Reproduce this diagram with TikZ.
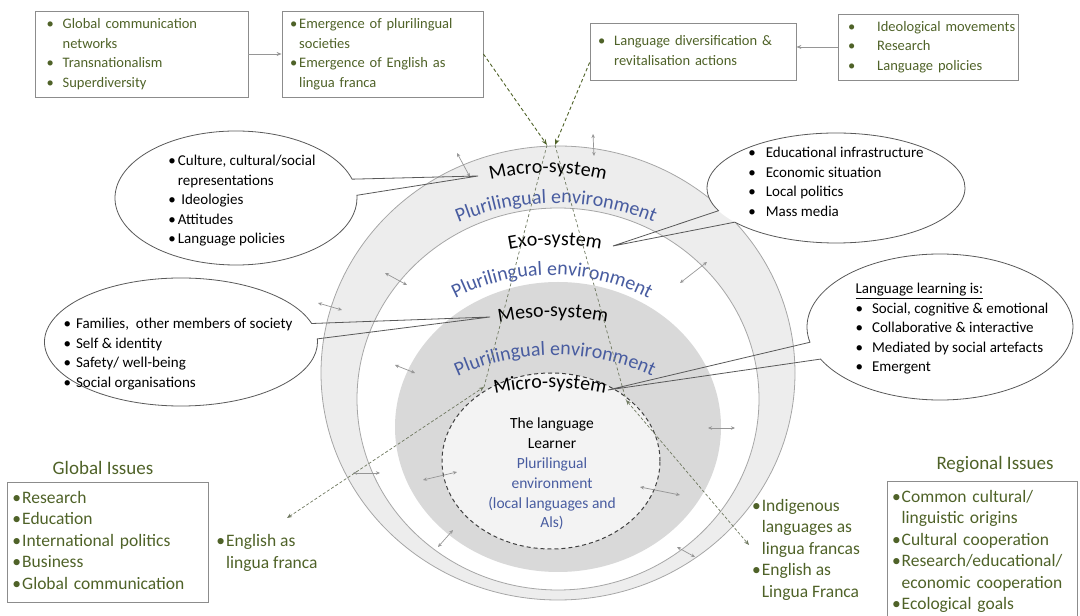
\documentclass[tikz,border=0pt]{standalone}
\usepackage{fontspec}
\setmainfont{Carlito}
\usepackage{tikz}
\usetikzlibrary{shapes.geometric, shapes.callouts, arrows.meta, positioning, calc, decorations.text}

% Schriftgrößen
\newcommand{\boxfont}{\fontsize{14.5}{19.5}\selectfont}
\newcommand{\callfont}{\fontsize{15}{19.5}\selectfont}
\newcommand{\issuefont}{\fontsize{17.5}{21.5}\selectfont}
\newcommand{\sysfont}{\fontsize{20}{24}\selectfont}

% gebogene Beschriftung: Mitte x, oberster Punkt y, Radius, Text
\newcommand{\arclabel}[4]{%
  \path[decorate, decoration={text along path, text align=center, text={#4}}]
    ([shift={(125:#3)}]#1,#2-#3) arc[start angle=125, end angle=55, radius=#3];}

\begin{document}
\begin{tikzpicture}[x=1pt, y=1pt,
    ring/.style={draw=ringgray, line width=0.8pt},
    greenbox/.style={draw=boxgray, line width=0.8pt, text=issuegreen, align=left, inner sep=0pt, font=\boxfont},
    bubble/.style={ellipse callout, draw=bubblegray, line width=0.8pt, callout pointer arc=14},
    linkarrow/.style={-{Stealth[length=5pt,width=4pt]}, draw=arrowgray, line width=0.8pt},
    influence/.style={-{Stealth[length=6pt,width=4.5pt]}, draw=issuegreen, dash pattern=on 3.5pt off 2.5pt, line width=0.9pt},
    fanline/.style={draw=fangreen, dash pattern=on 3pt off 2.5pt, line width=0.7pt},
    lingua/.style={{Stealth[length=5pt,width=4pt]}-{Stealth[length=5pt,width=4pt]}, draw=fangreen, dash pattern=on 3pt off 2pt, line width=0.7pt},
    interact/.style={{Stealth[length=4pt,width=3.5pt]}-{Stealth[length=4pt,width=3.5pt]}, draw=arrowgray, line width=0.7pt}
  ]
    % Farben
    \definecolor{issuegreen}{RGB}{79,98,40}
    \definecolor{fangreen}{RGB}{110,120,95}
    \definecolor{plblue}{RGB}{72,92,160}
    \definecolor{macrogray}{RGB}{237,237,237}
    \definecolor{mesogray}{RGB}{217,217,217}
    \definecolor{microgray}{RGB}{243,243,243}
    \definecolor{ringgray}{RGB}{166,166,166}
    \definecolor{boxgray}{RGB}{140,140,140}
    \definecolor{bubblegray}{RGB}{89,89,89}
    \definecolor{arrowgray}{RGB}{150,150,150}

    \useasboundingbox (0,0) rectangle (1080,616);

    % Systeme (von aussen nach innen)
    \path[ring, fill=macrogray] (558,243) ellipse[x radius=237, y radius=227];
    \path[ring, fill=white] (558,217) ellipse[x radius=201, y radius=191];
    \path[fill=mesogray] (558,189) ellipse[x radius=163, y radius=145];
    \path[fill=microgray, draw=black!75, dash pattern=on 4pt off 3pt, line width=1pt] (551,155) ellipse[x radius=109, y radius=88];

    % gebogene Beschriftungen
    \arclabel{548}{443}{250}{|\sysfont|Macro-system}
    \arclabel{556}{413}{255}{|\color{plblue}\sysfont|Plurilingual environment}
    \arclabel{555}{371}{230}{|\sysfont|Exo-system}
    \arclabel{552}{341}{212}{|\color{plblue}\sysfont|Plurilingual environment}
    \arclabel{553}{299}{280}{|\sysfont|Meso-system}
    \arclabel{555}{261}{235}{|\color{plblue}\sysfont|Plurilingual environment}
    \arclabel{550}{228}{260}{|\sysfont|Micro-system}

    % Lerner in der Mitte
    \node[font=\fontsize{15.5}{19.8}\selectfont, align=center] (learner) at (552,142)
      {The language\\Learner\\\textcolor{plblue}{Plurilingual}\\\textcolor{plblue}{environment}\\
       \textcolor{plblue}{(local languages and}\\\textcolor{plblue}{Als)}};

    % Wechselwirkungen zwischen den Systemen
    \foreach \xa/\ya/\xb/\yb in {457/463/470/439, 593/482/594/460, 385/343/407/331, 318/313/342/306,
        680/333/707/354, 395/251/415/243, 708/188/735/188, 423/136/457/144,
        640/129/680/121, 438/69/453/86, 677/69/695/59, 353/143/380/143} {
      \draw[interact] (\xa,\ya) -- (\xb,\yb);
    }

    % gestrichelte Einflusslinien
    \coordinate (convL) at (547,471);
    \coordinate (convR) at (555,471);
    \coordinate (mL) at (484,229);
    \coordinate (mR) at (626,216);
    \coordinate (engtip) at (287,98);
    \coordinate (indtip) at (749,71);
    \draw[fanline] (convL) -- (mL);
    \draw[fanline] (convR) -- (mR);
    \draw[lingua] (engtip) -- (mL);
    \draw[lingua] (mR) -- (indtip);

    % Sprechblasen (weisser Grund, dann Umriss)
    \fill[white] (236,418) ellipse[x radius=121, y radius=67];
    \fill[white] (836,428) ellipse[x radius=129, y radius=55];
    \fill[white] (181,274) ellipse[x radius=136.5, y radius=64];
    \fill[white] (940,289) ellipse[x radius=133, y radius=73];
    \node[bubble, minimum width=242, minimum height=134, callout absolute pointer={(478,440)}] (macroC) at (236,418) {};
    \node[bubble, minimum width=258, minimum height=110, callout absolute pointer={(613,370)}] (exoC) at (836,428) {};
    \node[bubble, minimum width=273, minimum height=128, callout absolute pointer={(490,299)}] (mesoC) at (181,274) {};
    \node[bubble, minimum width=266, minimum height=146, callout absolute pointer={(608,226)}] (microC) at (940,289) {};

    \node[font=\callfont] (macroT) at (242,415) {\begin{tabular}{@{}l@{\hspace{2pt}}l@{}}
      \textbullet & Culture, cultural/social\\ & representations\\ \textbullet & \ Ideologies\\
      \textbullet & Attitudes\\ \textbullet & Language policies\end{tabular}};
    \node[font=\callfont] (exoT) at (836,433) {\begin{tabular}{@{}l@{\hspace{10pt}}l@{}}
      \textbullet & Educational infrastructure\\ \textbullet & Economic situation\\
      \textbullet & Local politics\\ \textbullet & Mass media\end{tabular}};
    \node[font=\callfont] (mesoT) at (178,262) {\begin{tabular}{@{}l@{\hspace{5pt}}l@{}}
      \textbullet & Families,\ \ other members of society\\ \textbullet & Self \& identity\\
      \textbullet & Safety/ well-being\\ \textbullet & Social organisations\end{tabular}};
    \node[font=\callfont] (microT) at (952,287) {\begin{tabular}{@{}l@{\hspace{9pt}}l@{}}
      \multicolumn{2}{@{}l@{}}{\underline{Language learning is:}}\\
      \textbullet & Social, cognitive \& emotional\\ \textbullet & Collaborative \& interactive\\
      \textbullet & Mediated by social artefacts\\ \textbullet & Emergent\end{tabular}};

    % Kästen oben
    \node[greenbox, minimum width=213, minimum height=86, text width=190] (netw) at (141.5,562)
      {\begin{tabular}{@{}l@{\hspace{9pt}}l@{}}\textbullet & Global communication\\ & networks\\
       \textbullet & Transnationalism\\ \textbullet & Superdiversity\end{tabular}};
    \node[greenbox, minimum width=201, minimum height=86, text width=185] (plurisoc) at (382.5,562)
      {\begin{tabular}{@{}l@{\hspace{2pt}}l@{}}\textbullet & Emergence of plurilingual\\ & societies\\
       \textbullet & Emergence of English as\\ & lingua franca\end{tabular}};
    \node[greenbox, minimum width=206, minimum height=57, text width=190] (divers) at (693,564.5)
      {\begin{tabular}{@{}l@{\hspace{9pt}}l@{}}\textbullet & Language diversification \&\\
       & revitalisation actions\end{tabular}};
    \node[greenbox, minimum width=180, minimum height=66, text width=160] (ideol) at (928,569)
      {\begin{tabular}{@{}l@{\hspace{22pt}}l@{}}\textbullet & Ideological movements\\
       \textbullet & Research\\ \textbullet & Language policies\end{tabular}};

    \draw[linkarrow] (netw.east) -- (plurisoc.west);
    \draw[linkarrow] (ideol.west) -- (ideol.west -| divers.east);
    \draw[influence] (plurisoc.east) -- (convL);
    \draw[influence] ([yshift=-11pt]divers.west) -- (convR);

    % globale und regionale Themen
    \node[text=issuegreen, font=\fontsize{19}{23}\selectfont] (globalT) at (103,148) {Global Issues};
    \node[greenbox, font=\issuefont, minimum width=201, minimum height=120, text width=190] (globalB) at (107.5,74)
      {\begin{tabular}{@{}l@{\hspace{1pt}}l@{}}\textbullet & Research\\ \textbullet & Education\\
       \textbullet & International politics\\ \textbullet & Business\\ \textbullet & Global communication\end{tabular}};
    \node[text=issuegreen, font=\issuefont] (engT) at (267,63)
      {\begin{tabular}{@{}l@{\hspace{1pt}}l@{}}\textbullet & English as\\ & lingua franca\end{tabular}};

    \node[text=issuegreen, font=\fontsize{19}{23}\selectfont] (regionT) at (995,151) {Regional Issues};
    \node[greenbox, font=\issuefont, minimum width=190, minimum height=141, text width=180] (regionB) at (982,64.5)
      {\begin{tabular}{@{}l@{\hspace{1pt}}l@{}}\textbullet & Common cultural/\\ & linguistic origins\\
       \textbullet & Cultural cooperation\\ \textbullet & Research/educational/\\ & economic cooperation\\
       \textbullet & Ecological goals\end{tabular}};
    \node[text=issuegreen, font=\issuefont] (indT) at (806,66)
      {\begin{tabular}{@{}l@{\hspace{1pt}}l@{}}\textbullet & Indigenous\\ & languages as\\ & lingua francas\\
       \textbullet & English as\\ & Lingua Franca\end{tabular}};
\end{tikzpicture}
\end{document}
